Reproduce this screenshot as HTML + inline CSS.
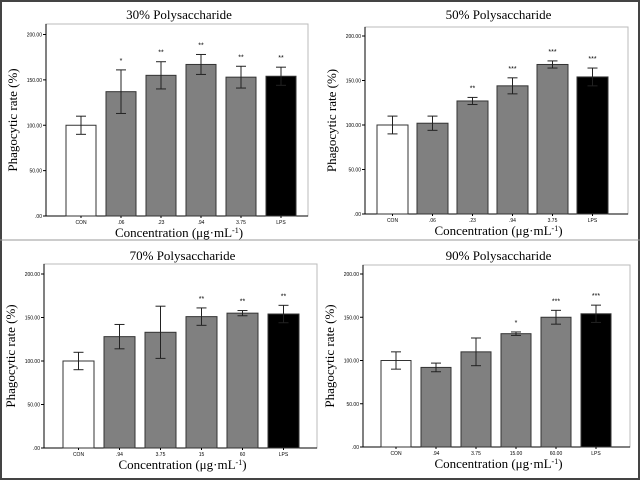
<!DOCTYPE html><html><head><style>body{margin:0;background:#fff}svg{display:block}</style></head><body>
<svg id="s" width="640" height="480" xmlns="http://www.w3.org/2000/svg"></svg>
<script>
const P=[
{t:"30%  Polysaccharide",L:46,R:308,T:24,B:216,y200:34.5,x0:66,bw:30,sp:40,ty:15,
 lab:["CON",".06",".23",".94","3.75","LPS"],d:[[100,10,""],[137,24,"*"],[155,15,"**"],[167,11,"**"],[153,12,"**"],[154,10,"**"]]},
{t:"50%  Polysaccharide",L:365,R:628,T:27,B:214,y200:36,x0:377,bw:31,sp:40,ty:15,
 lab:["CON",".06",".23",".94","3.75","LPS"],d:[[100,10,""],[102,8,""],[127,4,"**"],[144,9,"***"],[168,4,"***"],[154,10,"***"]]},
{t:"70%  Polysaccharide",L:44,R:317,T:264,B:448,y200:274,x0:63,bw:31,sp:41,ty:256,
 lab:["CON",".94","3.75","15","60","LPS"],d:[[100,10,""],[128,14,""],[133,30,""],[151,10,"**"],[155,3,"**"],[154,10,"**"]]},
{t:"90%  Polysaccharide",L:363,R:630,T:265,B:447,y200:274,x0:381,bw:30,sp:40,ty:256,
 lab:["CON",".94","3.75","15.00","60.00","LPS"],d:[[100,10,""],[92,5,""],[110,16,""],[131,2,"*"],[150,8,"***"],[154,10,"***"]]}
];
let h='<rect x="1" y="1" width="638" height="478" fill="none" stroke="#444" stroke-width="2"/><line x1="0" y1="240" x2="640" y2="240" stroke="#999" stroke-width="1"/>';
const fills=["#fff","#808080","#808080","#808080","#808080","#000"];
for(const p of P){
 const k=(p.B-p.y200)/200, y=v=>p.B-v*k;
 h+=`<rect x="${p.L}" y="${p.T}" width="${p.R-p.L}" height="${p.B-p.T}" fill="none" stroke="#bbb" stroke-width="1"/>`;
 h+=`<line x1="${p.L}" y1="${p.T}" x2="${p.L}" y2="${p.B}" stroke="#000"/><line x1="${p.L}" y1="${p.B}" x2="${p.R}" y2="${p.B}" stroke="#000"/>`;
 const tl=[".00","50.00","100.00","150.00","200.00"];
 for(let i=0;i<5;i++){const yy=y(i*50);h+=`<line x1="${p.L-3}" y1="${yy}" x2="${p.L}" y2="${yy}" stroke="#000"/><text x="${p.L-4}" y="${yy+2}" font-size="5" text-anchor="end" font-family="Liberation Sans,sans-serif">${tl[i]}</text>`;}
 p.d.forEach((d,i)=>{const x=p.x0+i*p.sp,cx=x+p.bw/2;
  h+=`<rect x="${x}" y="${y(d[0])}" width="${p.bw}" height="${p.B-y(d[0])}" fill="${fills[i]}" stroke="#333" stroke-width="1"/>`;
  const a=y(d[0]+d[1]),b=y(d[0]-d[1]);
  h+=`<line x1="${cx}" y1="${a}" x2="${cx}" y2="${b}" stroke="#222"/><line x1="${cx-5}" y1="${a}" x2="${cx+5}" y2="${a}" stroke="#222"/><line x1="${cx-5}" y1="${b}" x2="${cx+5}" y2="${b}" stroke="#222"/>`;
  if(d[2])h+=`<text x="${cx}" y="${a-7}" font-size="7" text-anchor="middle" font-family="Liberation Sans,sans-serif">${d[2]}</text>`;
  h+=`<line x1="${cx}" y1="${p.B}" x2="${cx}" y2="${p.B+2}" stroke="#000"/><text x="${cx}" y="${p.B+8}" font-size="5" text-anchor="middle" font-family="Liberation Sans,sans-serif">${p.lab[i]}</text>`;
 });
 const mx=(p.L+p.R)/2+2;
 h+=`<text x="${mx}" y="${p.ty+4}" font-size="13" text-anchor="middle" font-family="Liberation Serif,serif">${p.t}</text>`;
 h+=`<text x="${mx}" y="${p.B+21}" font-size="13" text-anchor="middle" font-family="Liberation Serif,serif">Concentration (μg·mL<tspan dy="-4" font-size="8">-1</tspan><tspan dy="4">)</tspan></text>`;
 const yc=(p.T+p.B)/2;
 h+=`<text transform="translate(${p.L-29},${yc}) rotate(-90)" font-size="13" text-anchor="middle" font-family="Liberation Serif,serif">Phagocytic rate (%)</text>`;
}
document.getElementById("s").innerHTML=h;
</script>
</body></html>
